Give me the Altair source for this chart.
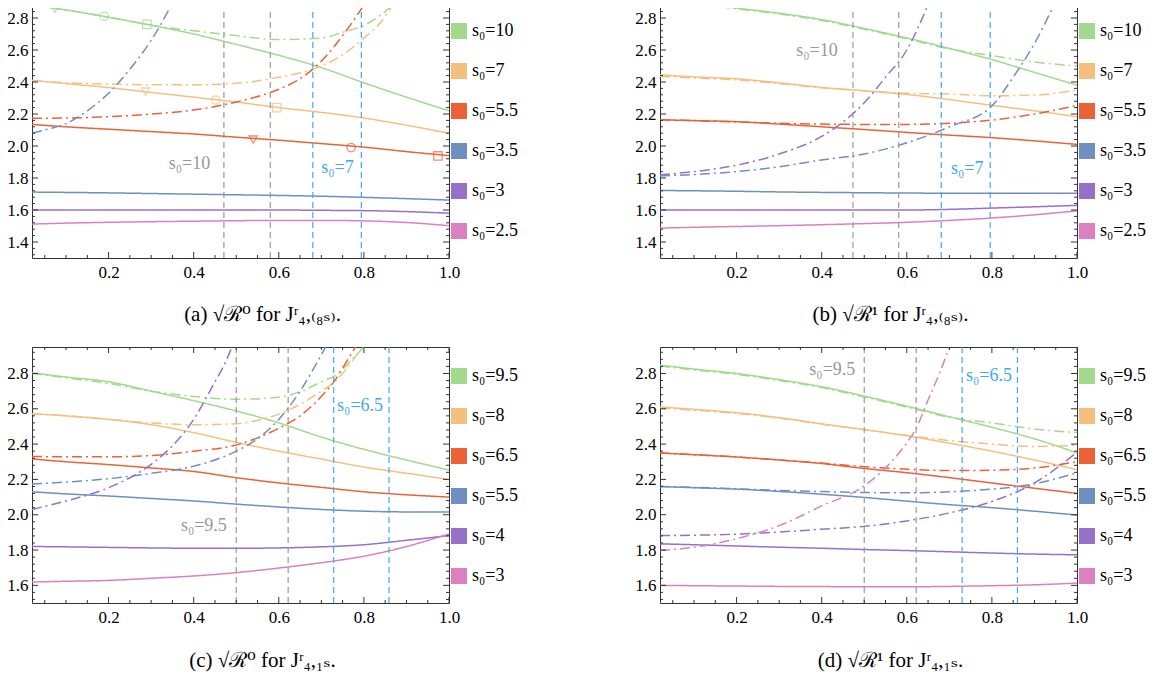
import altair as alt
import pandas as pd

FONT = "Liberation Serif, Times New Roman, DejaVu Serif, serif"
COLORS = ["#A3D98D", "#F5C07F", "#EB6236", "#6E8FBF", "#9670C9", "#DB80C0"]
GRAY = "#999999"
BLUE = "#3FA9F5"
W, H = 417, 256

XG = [0.02, 0.1, 0.2, 0.3, 0.4, 0.5, 0.6, 0.7, 0.8, 0.9, 1.0]
X_TICKS = [0.2, 0.4, 0.6, 0.8, 1.0]

# ---------------- panel (a) ----------------
A_LABELS = ["s₀=10", "s₀=7", "s₀=5.5", "s₀=3.5", "s₀=3", "s₀=2.5"]
A_S_GREEN = [2.88, 2.85, 2.805, 2.755, 2.70, 2.635, 2.567, 2.49, 2.395, 2.305, 2.22]
A_S_ORANGE = [2.41, 2.39, 2.365, 2.335, 2.305, 2.275, 2.24, 2.21, 2.175, 2.13, 2.08]
A_S_RED = [2.135, 2.12, 2.105, 2.09, 2.075, 2.055, 2.036, 2.015, 1.993, 1.965, 1.94]
A_S_BLUE = [1.712, 1.71, 1.707, 1.703, 1.699, 1.695, 1.691, 1.686, 1.679, 1.671, 1.662]
A_S_PURPLE = [1.60, 1.60, 1.60, 1.60, 1.60, 1.60, 1.60, 1.598, 1.596, 1.59, 1.58]
A_S_PINK = [1.512, 1.518, 1.523, 1.527, 1.530, 1.533, 1.535, 1.535, 1.532, 1.522, 1.502]
A_D_GREEN_X = [0.02, 0.1, 0.2, 0.3, 0.4, 0.5, 0.6, 0.7, 0.75, 0.8, 0.83, 0.87, 0.89]
A_D_GREEN_Y = [2.88, 2.85, 2.805, 2.755, 2.72, 2.69, 2.665, 2.675, 2.71, 2.754, 2.80, 2.89, 2.95]
A_D_ORANGE_X = [0.02, 0.1, 0.2, 0.3, 0.4, 0.5, 0.6, 0.7, 0.75, 0.8, 0.84, 0.87, 0.89]
A_D_ORANGE_Y = [2.41, 2.395, 2.387, 2.383, 2.382, 2.392, 2.43, 2.50, 2.57, 2.675, 2.775, 2.89, 2.96]
A_D_RED_X = [0.02, 0.1, 0.2, 0.3, 0.4, 0.5, 0.6, 0.65, 0.7, 0.75, 0.8, 0.82]
A_D_RED_Y = [2.173, 2.175, 2.183, 2.20, 2.225, 2.275, 2.355, 2.42, 2.53, 2.69, 2.88, 2.96]
A_D_BLUE_X = [0.02, 0.05, 0.1, 0.15, 0.2, 0.25, 0.3, 0.35, 0.37]
A_D_BLUE_Y = [2.08, 2.10, 2.14, 2.22, 2.33, 2.48, 2.66, 2.89, 2.98]
A_MARK_X = [0.074, 0.19, 0.29, 0.287, 0.452, 0.595, 0.54, 0.77, 0.974]
A_MARK_Y = [2.858, 2.81, 2.76, 2.34, 2.287, 2.24, 2.04, 1.99, 1.938]
A_MARK_S = ["s₀=10"] * 3 + ["s₀=7"] * 3 + ["s₀=5.5"] * 3
A_MARK_M = ["tri", "circ", "sq"] * 3
A_VGRAY = [0.471, 0.58]
A_VBLUE = [0.68, 0.794]
A_TGRAY = (0.39, 1.89, "s₀=10")
A_TBLUE = (0.738, 1.86, "s₀=7")

# ---------------- panel (b) ----------------
B_S_GREEN = [2.91, 2.895, 2.862, 2.83, 2.79, 2.735, 2.675, 2.61, 2.54, 2.46, 2.38]
B_S_ORANGE = [2.445, 2.432, 2.42, 2.395, 2.366, 2.345, 2.322, 2.29, 2.254, 2.22, 2.183]
B_S_RED = [2.164, 2.159, 2.152, 2.137, 2.12, 2.103, 2.085, 2.068, 2.052, 2.032, 2.01]
B_S_BLUE = [1.722, 1.72, 1.717, 1.713, 1.71, 1.708, 1.706, 1.705, 1.705, 1.705, 1.705]
B_S_PURPLE = [1.60, 1.60, 1.60, 1.60, 1.60, 1.60, 1.60, 1.604, 1.612, 1.62, 1.629]
B_S_PINK = [1.487, 1.492, 1.497, 1.502, 1.508, 1.515, 1.523, 1.535, 1.55, 1.57, 1.595]
B_D_GREEN_Y = [2.905, 2.89, 2.857, 2.825, 2.785, 2.73, 2.67, 2.607, 2.565, 2.525, 2.50]
B_D_ORANGE_Y = [2.436, 2.425, 2.413, 2.39, 2.364, 2.345, 2.33, 2.325, 2.314, 2.318, 2.35]
B_D_RED_Y = [2.164, 2.158, 2.15, 2.142, 2.137, 2.135, 2.135, 2.142, 2.162, 2.20, 2.254]
B_D_BLUE_X = [0.02, 0.1, 0.2, 0.3, 0.4, 0.5, 0.6, 0.7, 0.8, 0.85, 0.9, 0.95, 0.97]
B_D_BLUE_Y = [1.813, 1.822, 1.84, 1.87, 1.913, 1.95, 2.02, 2.12, 2.25, 2.43, 2.64, 2.90, 3.0]
B_D_PURPLE_X = [0.02, 0.1, 0.2, 0.3, 0.4, 0.45, 0.5, 0.55, 0.6, 0.63, 0.66]
B_D_PURPLE_Y = [1.82, 1.84, 1.88, 1.95, 2.06, 2.15, 2.27, 2.43, 2.60, 2.76, 2.95]
B_VGRAY = [0.4735, 0.581]
B_VBLUE = [0.681, 0.796]
B_TGRAY = (0.389, 2.594, "s₀=10")
B_TBLUE = (0.742, 1.855, "s₀=7")

# ---------------- panel (c) ----------------
C_LABELS = ["s₀=9.5", "s₀=8", "s₀=6.5", "s₀=5.5", "s₀=4", "s₀=3"]
C_S_GREEN = [2.804, 2.78, 2.753, 2.70, 2.646, 2.588, 2.52, 2.44, 2.37, 2.31, 2.253]
C_S_ORANGE = [2.572, 2.56, 2.54, 2.51, 2.465, 2.41, 2.36, 2.315, 2.27, 2.235, 2.20]
C_S_RED = [2.316, 2.30, 2.284, 2.265, 2.245, 2.21, 2.18, 2.155, 2.13, 2.113, 2.10]
C_S_BLUE = [2.13, 2.118, 2.106, 2.092, 2.078, 2.06, 2.044, 2.03, 2.02, 2.016, 2.016]
C_S_PURPLE = [1.82, 1.818, 1.815, 1.812, 1.81, 1.81, 1.812, 1.818, 1.83, 1.855, 1.882]
C_S_PINK = [1.619, 1.623, 1.628, 1.64, 1.653, 1.672, 1.698, 1.728, 1.765, 1.82, 1.891]
C_D_GREEN_X = [0.02, 0.1, 0.2, 0.3, 0.4, 0.5, 0.6, 0.65, 0.7, 0.74, 0.77, 0.8]
C_D_GREEN_Y = [2.80, 2.775, 2.744, 2.70, 2.67, 2.654, 2.665, 2.697, 2.753, 2.80, 2.875, 2.95]
C_D_ORANGE_X = [0.02, 0.1, 0.2, 0.3, 0.4, 0.5, 0.55, 0.6, 0.65, 0.7, 0.73, 0.76, 0.79]
C_D_ORANGE_Y = [2.572, 2.56, 2.54, 2.52, 2.51, 2.515, 2.535, 2.57, 2.625, 2.70, 2.75, 2.83, 2.93]
C_D_RED_X = [0.02, 0.1, 0.2, 0.3, 0.4, 0.5, 0.55, 0.6, 0.65, 0.7, 0.73, 0.76, 0.78]
C_D_RED_Y = [2.33, 2.328, 2.328, 2.335, 2.36, 2.395, 2.435, 2.49, 2.56, 2.67, 2.755, 2.87, 2.95]
C_D_BLUE_X = [0.02, 0.1, 0.2, 0.3, 0.4, 0.5, 0.55, 0.6, 0.65, 0.68, 0.71]
C_D_BLUE_Y = [2.174, 2.185, 2.204, 2.234, 2.275, 2.36, 2.43, 2.54, 2.70, 2.82, 2.95]
C_D_PURPLE_X = [0.02, 0.1, 0.2, 0.3, 0.35, 0.4, 0.45, 0.47, 0.49]
C_D_PURPLE_Y = [2.03, 2.078, 2.153, 2.285, 2.39, 2.54, 2.753, 2.84, 2.95]
C_VGRAY = [0.5, 0.622]
C_VBLUE = [0.729, 0.859]
C_TGRAY = (0.424, 1.938, "s₀=9.5")
C_TBLUE = (0.791, 2.616, "s₀=6.5")

# ---------------- panel (d) ----------------
D_S_GREEN = [2.847, 2.825, 2.80, 2.765, 2.725, 2.672, 2.615, 2.555, 2.495, 2.43, 2.35]
D_S_ORANGE = [2.61, 2.597, 2.578, 2.55, 2.515, 2.482, 2.447, 2.405, 2.36, 2.31, 2.255]
D_S_RED = [2.35, 2.34, 2.327, 2.31, 2.29, 2.262, 2.238, 2.21, 2.18, 2.15, 2.121]
D_S_BLUE = [2.16, 2.153, 2.145, 2.132, 2.116, 2.098, 2.077, 2.057, 2.04, 2.02, 1.998]
D_S_PURPLE = [1.835, 1.83, 1.823, 1.816, 1.81, 1.803, 1.797, 1.79, 1.783, 1.777, 1.773]
D_S_PINK = [1.60, 1.598, 1.596, 1.594, 1.593, 1.592, 1.592, 1.594, 1.598, 1.603, 1.613]
D_D_GREEN_Y = [2.842, 2.82, 2.795, 2.76, 2.72, 2.667, 2.61, 2.552, 2.52, 2.485, 2.466]
D_D_ORANGE_Y = [2.603, 2.592, 2.574, 2.547, 2.513, 2.482, 2.45, 2.42, 2.40, 2.387, 2.393]
D_D_RED_Y = [2.35, 2.34, 2.327, 2.31, 2.293, 2.272, 2.258, 2.25, 2.252, 2.265, 2.30]
D_D_BLUE_Y = [2.16, 2.155, 2.147, 2.138, 2.131, 2.126, 2.124, 2.13, 2.145, 2.175, 2.238]
D_D_PURPLE_Y = [1.882, 1.884, 1.89, 1.902, 1.918, 1.934, 1.965, 2.01, 2.075, 2.18, 2.354]
D_D_PINK_X = [0.02, 0.1, 0.2, 0.3, 0.4, 0.5, 0.55, 0.6, 0.62, 0.65, 0.68, 0.7]
D_D_PINK_Y = [1.797, 1.816, 1.864, 1.938, 2.05, 2.163, 2.266, 2.407, 2.48, 2.65, 2.82, 2.95]
D_VGRAY = [0.5, 0.622]
D_VBLUE = [0.73, 0.86]
D_TGRAY = (0.425, 2.822, "s₀=9.5")
D_TBLUE = (0.793, 2.785, "s₀=6.5")

CAPTIONS = ["(a)  √ℛ⁰  for  Jʳ₄,₍₈ₛ₎.", "(b)  √ℛ¹  for  Jʳ₄,₍₈ₛ₎.",
            "(c)  √ℛ⁰  for  Jʳ₄,₁ₛ.", "(d)  √ℛ¹  for  Jʳ₄,₁ₛ."]


def frange(a, b, step):
    out, v = [], a
    while v <= b + 1e-9:
        out.append(round(v, 4))
        v += step
    return out


def make_panel(labels, solids, dashes, ydom, yticks, vgray, vblue, tgray, tblue, caption,
               marks=None, title_offset=24):
    rows = []
    for lab, ys in zip(labels, solids):
        for x, y in zip(XG, ys):
            rows.append({"x": x, "y": y, "s": lab, "k": "solid"})
    for lab, d in zip(labels, dashes):
        if d is None:
            continue
        for x, y in zip(d[0], d[1]):
            rows.append({"x": x, "y": y, "s": lab, "k": "dashdot"})
    df = pd.DataFrame(rows)

    xs = alt.Scale(domain=[0.02, 1.0], nice=False, zero=False)
    ys = alt.Scale(domain=ydom, nice=False, zero=False)
    cs = alt.Scale(domain=labels, range=COLORS)

    xaxis = alt.Axis(values=X_TICKS, format=".1f", ticks=False, domain=False, grid=False,
                     labelFont=FONT, labelFontSize=17, labelColor="black", labelPadding=6,
                     labelFlush=False, labelOverlap=False, title=None)
    yaxis = alt.Axis(values=yticks, format=".1f", ticks=False, domain=False, grid=False,
                     labelFont=FONT, labelFontSize=17, labelColor="black", labelPadding=4,
                     labelOverlap=False, title=None)

    def X(f="x"):
        return alt.X(f + ":Q", scale=xs, axis=xaxis, title=None)

    def Y(f="y"):
        return alt.Y(f + ":Q", scale=ys, axis=yaxis, title=None)

    lines = alt.Chart(df).mark_line(clip=True, strokeWidth=1.5, interpolate="monotone").encode(
        x=X(), y=Y(),
        color=alt.Color("s:N", scale=cs, legend=alt.Legend(
            orient="none", legendX=W + 1, legendY=20, title=None, symbolType="square",
            symbolSize=64, symbolStrokeWidth=8, symbolOpacity=1, labelFont=FONT,
            labelFontSize=18, labelColor="black", rowPadding=0, labelOffset=4)),
        strokeDash=alt.StrokeDash("k:N", scale=alt.Scale(domain=["solid", "dashdot"],
                                                         range=[[1, 0], [10, 4, 2, 4]]), legend=None),
    )

    layers = [lines]

    vgdf = pd.DataFrame({"x": vgray})
    vbdf = pd.DataFrame({"x": vblue})
    layers.append(alt.Chart(vgdf).mark_rule(strokeDash=[6, 4], color=GRAY, strokeWidth=1.2).encode(x=X()))
    layers.append(alt.Chart(vbdf).mark_rule(strokeDash=[6, 4], color=BLUE, strokeWidth=1.2).encode(x=X()))

    if marks is not None:
        mdf = pd.DataFrame({"x": marks[0], "y": marks[1], "s": marks[2], "m": marks[3]})
        layers.append(alt.Chart(mdf).mark_point(filled=False, size=70, strokeWidth=1.3).encode(
            x=X(), y=Y(),
            color=alt.Color("s:N", scale=cs, legend=None),
            shape=alt.Shape("m:N", scale=alt.Scale(domain=["tri", "circ", "sq"],
                                                   range=["triangle-down", "circle", "square"]),
                            legend=None)))

    for t, col in ((tgray, GRAY), (tblue, BLUE)):
        tdf = pd.DataFrame({"x": [t[0]], "y": [t[1]], "t": [t[2]]})
        layers.append(alt.Chart(tdf).mark_text(font=FONT, fontSize=18, color=col).encode(
            x=X(), y=Y(), text="t:N"))

    # inward frame ticks
    xmaj = X_TICKS
    xmin = [v for v in frange(0.05, 0.95, 0.05) if all(abs(v - m) > 1e-6 for m in xmaj)]
    ymaj = yticks
    ymin = [v for v in frange(1.24, 3.0, 0.04)
            if ydom[0] < v < ydom[1] and all(abs(v - m) > 1e-6 for m in ymaj)]
    for vals, L in ((xmaj, 6), (xmin, 3)):
        tdf = pd.DataFrame({"x": vals})
        base = alt.Chart(tdf).mark_rule(color="#333", strokeWidth=1)
        layers.append(base.encode(x=X(), y=alt.value(H), y2=alt.value(H - L)))
        layers.append(base.encode(x=X(), y=alt.value(0), y2=alt.value(L)))
    for vals, L in ((ymaj, 6), (ymin, 3)):
        tdf = pd.DataFrame({"y": vals})
        base = alt.Chart(tdf).mark_rule(color="#333", strokeWidth=1)
        layers.append(base.encode(y=Y(), x=alt.value(0), x2=alt.value(L)))
        layers.append(base.encode(y=Y(), x=alt.value(W), x2=alt.value(W - L)))

    return alt.layer(*layers).properties(
        width=W, height=H,
        title=alt.TitleParams(caption, orient="bottom", font=FONT, fontSize=21, fontWeight="normal",
                              color="black", offset=title_offset, frame="group", anchor="middle", dx=22),
    )


pa = make_panel(A_LABELS,
                [A_S_GREEN, A_S_ORANGE, A_S_RED, A_S_BLUE, A_S_PURPLE, A_S_PINK],
                [(A_D_GREEN_X, A_D_GREEN_Y), (A_D_ORANGE_X, A_D_ORANGE_Y), (A_D_RED_X, A_D_RED_Y),
                 (A_D_BLUE_X, A_D_BLUE_Y), None, None],
                [1.3, 2.9], [1.4, 1.6, 1.8, 2.0, 2.2, 2.4, 2.6, 2.8],
                A_VGRAY, A_VBLUE, A_TGRAY, A_TBLUE, CAPTIONS[0],
                marks=(A_MARK_X, A_MARK_Y, A_MARK_S, A_MARK_M), title_offset=24)
pb = make_panel(A_LABELS,
                [B_S_GREEN, B_S_ORANGE, B_S_RED, B_S_BLUE, B_S_PURPLE, B_S_PINK],
                [(XG, B_D_GREEN_Y), (XG, B_D_ORANGE_Y), (XG, B_D_RED_Y),
                 (B_D_BLUE_X, B_D_BLUE_Y), (B_D_PURPLE_X, B_D_PURPLE_Y), None],
                [1.3, 2.9], [1.4, 1.6, 1.8, 2.0, 2.2, 2.4, 2.6, 2.8],
                B_VGRAY, B_VBLUE, B_TGRAY, B_TBLUE, CAPTIONS[1], title_offset=24)
pc = make_panel(C_LABELS,
                [C_S_GREEN, C_S_ORANGE, C_S_RED, C_S_BLUE, C_S_PURPLE, C_S_PINK],
                [(C_D_GREEN_X, C_D_GREEN_Y), (C_D_ORANGE_X, C_D_ORANGE_Y), (C_D_RED_X, C_D_RED_Y),
                 (C_D_BLUE_X, C_D_BLUE_Y), (C_D_PURPLE_X, C_D_PURPLE_Y), None],
                [1.5, 2.95], [1.6, 1.8, 2.0, 2.2, 2.4, 2.6, 2.8],
                C_VGRAY, C_VBLUE, C_TGRAY, C_TBLUE, CAPTIONS[2], title_offset=25)
pd_ = make_panel(C_LABELS,
                 [D_S_GREEN, D_S_ORANGE, D_S_RED, D_S_BLUE, D_S_PURPLE, D_S_PINK],
                 [(XG, D_D_GREEN_Y), (XG, D_D_ORANGE_Y), (XG, D_D_RED_Y),
                  (XG, D_D_BLUE_Y), (XG, D_D_PURPLE_Y), (D_D_PINK_X, D_D_PINK_Y)],
                 [1.5, 2.95], [1.6, 1.8, 2.0, 2.2, 2.4, 2.6, 2.8],
                 D_VGRAY, D_VBLUE, D_TGRAY, D_TBLUE, CAPTIONS[3], title_offset=25)

top = alt.hconcat(pa, pb, spacing=115).resolve_scale(color="independent", x="independent", y="independent")
bot = alt.hconcat(pc, pd_, spacing=115).resolve_scale(color="independent", x="independent", y="independent")
chart = alt.vconcat(top, bot, spacing=19).resolve_scale(
    color="independent", x="independent", y="independent", strokeDash="independent", shape="independent"
).properties(
    padding={"left": -2, "top": -8, "right": 0, "bottom": 0}
).configure_view(stroke="#333", strokeWidth=1)

chart.save("out.html", embed_options={"renderer": "svg", "actions": False})
